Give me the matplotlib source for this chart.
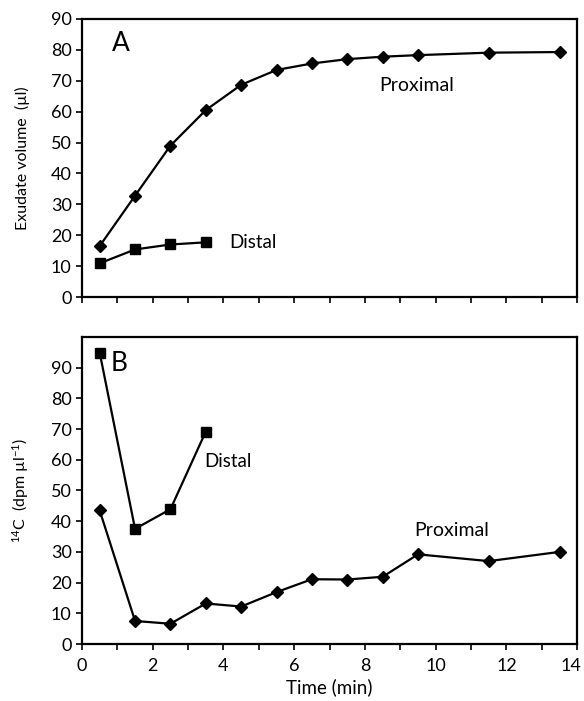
import matplotlib
matplotlib.use('Agg')
import matplotlib.pyplot as plt
from matplotlib.ticker import MultipleLocator, FuncFormatter

plt.rcParams['font.family'] = ['Lato', 'DejaVu Sans']
plt.rcParams['mathtext.fontset'] = 'custom'
plt.rcParams['mathtext.rm'] = 'Lato'
plt.rcParams['mathtext.it'] = 'Lato:italic'

# time points (min)
t_prox = [0.5, 1.5, 2.5, 3.5, 4.5, 5.5, 6.5, 7.5, 8.5, 9.5, 11.5, 13.5]
t_dist = [0.5, 1.5, 2.5, 3.5]

# A: exudate volume (ul)
vol_prox = [16.5, 32.8, 49.0, 60.5, 68.7, 73.5, 75.6, 77.0, 77.8, 78.3, 79.1, 79.3]
vol_dist = [10.9, 15.4, 17.0, 17.7]

# B: 14C (dpm ul-1)
c14_prox = [43.5, 7.5, 6.6, 13.2, 12.2, 16.9, 21.1, 21.0, 21.9, 29.2, 27.0, 30.0]
c14_dist = [94.9, 37.5, 43.9, 69.2]

x_max = 14

fig = plt.figure(figsize=(5.84, 7.01), dpi=100)
axA = fig.add_axes([0.1404, 0.5763, 0.848, 0.3966])
axB = fig.add_axes([0.1404, 0.0813, 0.848, 0.4380])

line_kw = dict(color='black', lw=1.6)

axA.plot(t_prox, vol_prox, marker='D', ms=6.5, **line_kw)
axA.plot(t_dist, vol_dist, marker='s', ms=7, **line_kw)
axB.plot(t_prox, c14_prox, marker='D', ms=6.5, **line_kw)
axB.plot(t_dist, c14_dist, marker='s', ms=7, **line_kw)

axA.set_ylim(0, 90)
axB.set_ylim(0, 100)
for ax in (axA, axB):
    ax.set_xlim(0, x_max)
    ax.xaxis.set_major_locator(MultipleLocator(2))
    ax.xaxis.set_minor_locator(MultipleLocator(1))
    ax.yaxis.set_major_locator(MultipleLocator(10))
    ax.tick_params(which='both', direction='out', length=4, width=1.2, labelsize=13)
    ax.tick_params(axis='x', which='both', top=False, pad=6)
    ax.tick_params(axis='y', right=False)
    for s in ax.spines.values():
        s.set_linewidth(1.6)
axA.tick_params(axis='x', which='both', labelbottom=False)
axB.set_yticks(range(0, 91, 10))

# last x label is pulled in a little so it stays inside the figure, as in the original
axB.xaxis.set_major_formatter(FuncFormatter(lambda v, p: '' if v >= x_max else f'{v:.0f}'))
axB.annotate(f'{x_max}', xy=(x_max, 0), xycoords=('data', 'axes fraction'),
             xytext=(3, -10), textcoords='offset points', ha='right', va='top', fontsize=13)

axA.set_ylabel('Exudate volume  (µl)', fontsize=11.5, labelpad=15)
axB.set_ylabel(r'$^{14}$C  (dpm µl$^{-1}$)', fontsize=11.5, labelpad=14)
axB.set_xlabel('Time (min)', fontsize=13.5, labelpad=3)

axA.text(0.85, 82, 'A', fontsize=19, va='center')
axA.text(4.15, 17.8, 'Distal', fontsize=13.5, va='center')
axA.text(9.45, 68.6, 'Proximal', fontsize=14, va='center', ha='center')
axB.text(0.8, 91.5, 'B', fontsize=19, va='center')
axB.text(3.45, 59.6, 'Distal', fontsize=13.5, va='center')
axB.text(9.38, 37.1, 'Proximal', fontsize=14, va='center')

fig.savefig('out.png', dpi=100)
